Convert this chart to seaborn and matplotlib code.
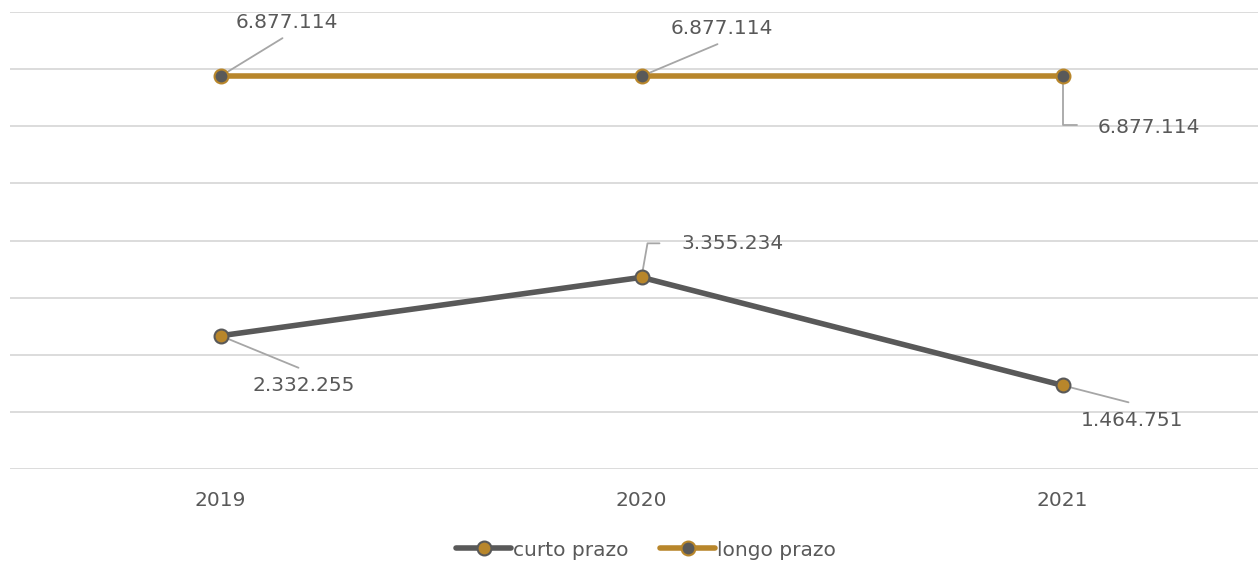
import matplotlib
matplotlib.use("Agg")
import matplotlib.pyplot as plt
import seaborn as sns
import pandas as pd
from matplotlib.lines import Line2D

years = ["2019", "2020", "2021"]
curto_prazo = [2332255, 3355234, 1464751]
longo_prazo = [6877114, 6877114, 6877114]
series_names = ["curto prazo", "longo prazo"]

GRAY = "#595959"
GOLD = "#B8862B"
GRID = "#D9D9D9"
LEADER = "#A6A6A6"

def fmt(v):
    return f"{v:,}".replace(",", ".")

df = pd.DataFrame({
    "ano": years * 2,
    "valor": curto_prazo + longo_prazo,
    "serie": [series_names[0]] * 3 + [series_names[1]] * 3,
})

sns.set_theme(style="white")
plt.rcParams["font.family"] = ["DejaVu Sans"]

fig = plt.figure(figsize=(12.58, 5.62), dpi=100)
ax = fig.add_axes([10 / 1258, 93 / 562, 1263 / 1258, 457 / 562])

sns.lineplot(data=df, x="ano", y="valor", hue="serie", palette=[GRAY, GOLD],
             linewidth=4, ax=ax, legend=False, sort=False)

mfc = {series_names[0]: GOLD, series_names[1]: GRAY}
mec = {series_names[0]: GRAY, series_names[1]: GOLD}
for name, vals in zip(series_names, [curto_prazo, longo_prazo]):
    ax.plot(range(len(years)), vals, linestyle="none", marker="o", markersize=10,
            markerfacecolor=mfc[name], markeredgecolor=mec[name], markeredgewidth=1.5, zorder=5)

ax.set_xlim(-0.5, 2.5)
ax.set_ylim(0, 8000000)
ax.set_yticks(range(0, 8000001, 1000000))
ax.yaxis.grid(True, color=GRID, linewidth=1.3)
ax.set_yticklabels([])
ax.tick_params(axis="y", length=0)
ax.tick_params(axis="x", length=0, labelsize=14.5, labelcolor=GRAY, pad=16)
ax.set_xlabel("")
ax.set_ylabel("")
for s in ax.spines.values():
    s.set_visible(False)

labels = [
    (longo_prazo, 0, (62, 38), (66, 54), None),
    (longo_prazo, 1, (76, 32), (80, 48), None),
    (longo_prazo, 2, (14, -49), (86, -51), "angle,angleA=0,angleB=90,rad=0"),
    (curto_prazo, 1, (18, 34), (91, 34), "angle,angleA=0,angleB=80,rad=0"),
    (curto_prazo, 0, (78, -32), (83, -50), None),
    (curto_prazo, 2, (66, -17), (70, -35), None),
]
for vals, i, lead, toff, conn in labels:
    props = dict(arrowstyle="-", color=LEADER, lw=1.3, shrinkA=0, shrinkB=0)
    if conn:
        props["connectionstyle"] = conn
    ax.annotate("", xy=(i, vals[i]), xytext=lead, textcoords="offset pixels",
                arrowprops=props, zorder=4)
    ax.annotate(fmt(vals[i]), xy=(i, vals[i]), xytext=toff, textcoords="offset pixels",
                ha="center", va="center", fontsize=14.5, color=GRAY, zorder=6)

handles = [
    Line2D([], [], color=GRAY, lw=4, marker="o", markersize=10,
           markerfacecolor=GOLD, markeredgecolor=GRAY, markeredgewidth=1.5),
    Line2D([], [], color=GOLD, lw=4, marker="o", markersize=10,
           markerfacecolor=GRAY, markeredgecolor=GOLD, markeredgewidth=1.5),
]
fig.legend(handles, series_names, loc="center", bbox_to_anchor=(646 / 1258, 1 - 550 / 562),
           ncol=2, frameon=False, fontsize=14.5, labelcolor=GRAY, handlelength=2.7,
           handletextpad=0.1, columnspacing=1.6)

fig.savefig("out.png", dpi=100)
